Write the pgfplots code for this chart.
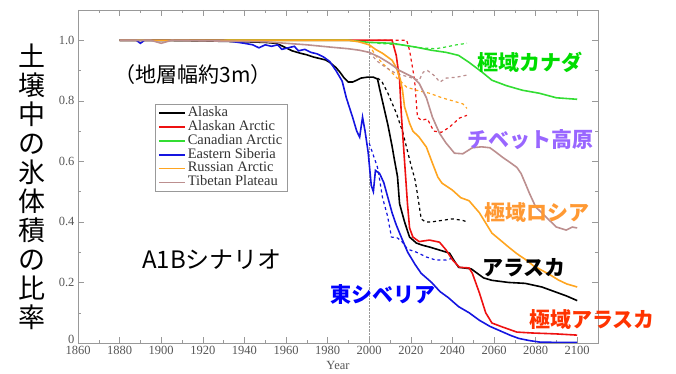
\documentclass[border=0pt]{standalone}
\usepackage{fontspec}
\setmainfont{Liberation Serif}
\newfontfamily\jp{Noto Sans CJK JP}
\usepackage{pgfplots}
\pgfplotsset{compat=1.18}
\definecolor{lblack}{HTML}{000000}
\definecolor{lred}{HTML}{EE1111}
\definecolor{lgreen}{HTML}{33DD33}
\definecolor{lblue}{HTML}{1515E0}
\definecolor{lorange}{HTML}{FFA520}
\definecolor{lbrown}{HTML}{BC8F8F}
\definecolor{tgreen}{HTML}{00DD00}
\definecolor{tpurple}{HTML}{9966FF}
\definecolor{torange}{HTML}{FF9933}
\definecolor{tred}{HTML}{FF3300}
\definecolor{tblue}{HTML}{0000FF}
\definecolor{axgray}{HTML}{999999}
\definecolor{txgray}{HTML}{555555}
\begin{document}
\begin{tikzpicture}
\useasboundingbox (0,0) rectangle (676pt,374pt);
\begin{axis}[
  at={(78pt,31pt)}, anchor=south west,
  width=520pt, height=333pt, scale only axis,
  xmin=1860, xmax=2110, ymin=0, ymax=1.1,
  xtick={1860,1880,...,2100}, minor x tick num=1,
  ytick={0,0.2,0.4,0.6,0.8,1.0}, minor y tick num=1,
  yticklabels={\raisebox{8pt}{0},0.2,0.4,0.6,0.8,1.0},
  tick align=inside,
  major tick length=6pt, minor tick length=3pt,
  axis line style={axgray},
  every tick/.style={axgray},
  /pgf/number format/assume math mode=true,
  xticklabel style={/pgf/number format/1000 sep={}},
  ticklabel style={font=\fontsize{12.5}{14}\selectfont, text=txgray},
  xlabel={Year},
  xlabel style={font=\fontsize{12.5}{14}\selectfont, text=txgray, yshift=1pt},
  legend style={at={(0.148,0.718)}, anchor=north west, draw=axgray,
    font=\fontsize{14.5}{15}\selectfont, text=black!80,
    nodes={inner ysep=0.4pt, text height=9.8pt, text depth=3.3pt},
    cells={anchor=west}},
  legend image code/.code={\draw[#1] (0pt,0pt) -- (26pt,0pt);},
]
\addplot[axgray, densely dotted, forget plot] coordinates {(2000,0) (2000,1.1)};

% dashed scenarios
\addplot[lblack, line width=1.2pt, dashed, forget plot] coordinates {
(2004,0.875)(2006,0.865)(2009,0.825)(2013,0.76)(2016,0.70)(2018,0.645)(2020,0.59)(2022,0.54)(2023,0.50)(2025,0.41)(2027,0.40)(2030,0.40)(2035,0.405)(2040,0.41)(2045,0.405)(2047,0.40)};
\addplot[lred, line width=1.2pt, dashed, forget plot] coordinates {
(2004,1.0)(2018,1.0)(2019.4,0.967)(2021.8,0.87)(2022.7,0.79)(2023.2,0.746)(2025,0.736)(2028,0.74)(2031,0.70)(2034.7,0.696)(2038.6,0.713)(2043.4,0.743)(2047,0.752)};
\addplot[lgreen, line width=1.2pt, dashed, forget plot] coordinates {
(2004,0.99)(2015,0.985)(2025,0.975)(2032,0.972)(2037,0.978)(2042,0.985)(2047,0.99)};
\addplot[lblue, line width=1.2pt, dashed, forget plot] coordinates {
(2000,0.66)(2002,0.62)(2004,0.58)(2005,0.54)(2006.4,0.48)(2008.8,0.42)(2010.7,0.35)(2013.6,0.347)(2016,0.333)(2018.4,0.31)(2022.7,0.30)(2027.5,0.284)(2032,0.274)(2037,0.274)(2040,0.28)};
\addplot[lorange, line width=1.2pt, dashed, forget plot] coordinates {
(2000,0.985)(2003,0.95)(2006.4,0.924)(2010,0.90)(2013,0.878)(2018,0.845)(2022.7,0.835)(2029,0.825)(2035,0.81)(2040,0.80)(2045,0.79)(2047,0.775)};
\addplot[lbrown, line width=1.2pt, dashed, forget plot] coordinates {
(2000,0.96)(2004,0.93)(2008,0.91)(2013,0.89)(2019.4,0.878)(2024,0.868)(2026,0.895)(2028,0.90)(2031,0.885)(2034,0.862)(2037,0.875)(2042,0.878)(2047,0.885)};

% solid
\addplot[lblack, line width=1.6pt] coordinates {
(1880,1.0)(1900,1.0)(1920,0.998)(1940,0.995)(1950,0.993)(1955,0.99)(1957,0.985)(1960,0.975)(1963,0.965)(1967,0.957)(1970,0.952)(1973,0.945)(1976,0.94)(1979,0.935)(1981,0.927)(1984,0.91)(1986,0.894)(1988,0.875)(1990,0.862)(1992,0.862)(1994,0.868)(1996,0.875)(1999,0.878)(2002,0.878)(2004,0.872)(2005,0.84)(2007,0.78)(2009,0.72)(2011,0.65)(2012,0.61)(2013.6,0.55)(2014.6,0.46)(2017,0.40)(2019.4,0.35)(2022.7,0.33)(2025.6,0.323)(2029,0.317)(2033.8,0.307)(2038.6,0.297)(2041,0.27)(2043,0.25)(2049,0.245)(2052,0.23)(2055,0.215)(2059,0.207)(2067,0.2)(2075,0.197)(2083,0.185)(2087,0.175)(2091,0.165)(2095,0.155)(2100,0.14)};
\addlegendentry{Alaska}
\addplot[lred, line width=1.6pt] coordinates {
(1880,1.0)(2011,1.0)(2013,0.95)(2014.6,0.87)(2015.5,0.75)(2017,0.6)(2018.4,0.46)(2019.4,0.38)(2021,0.35)(2024,0.335)(2029,0.34)(2033.8,0.333)(2037,0.307)(2040,0.275)(2043.4,0.25)(2048,0.248)(2049.6,0.23)(2053,0.165)(2056,0.10)(2059,0.066)(2064,0.053)(2071,0.036)(2078.5,0.033)(2090,0.03)(2100,0.026)};
\addlegendentry{Alaskan Arctic}
\addplot[lgreen, line width=1.6pt] coordinates {
(1880,1.0)(1990,1.0)(2000,0.993)(2011,0.99)(2022.7,0.977)(2030,0.967)(2037,0.96)(2043,0.95)(2048,0.927)(2054.4,0.894)(2059,0.868)(2066,0.85)(2073.6,0.835)(2081.8,0.825)(2090,0.81)(2100,0.805)};
\addlegendentry{Canadian Arctic}
\addplot[lblue, line width=1.6pt] coordinates {
(1880,1.0)(1888,1.0)(1890,0.99)(1892,1.0)(1930,1.0)(1935,0.995)(1940,0.99)(1944,0.985)(1947,0.975)(1950,0.985)(1953,0.98)(1956,0.985)(1958,0.97)(1961,0.975)(1964,0.98)(1966,0.965)(1969,0.97)(1972,0.96)(1975,0.955)(1978,0.945)(1981,0.93)(1984,0.90)(1987,0.865)(1989,0.81)(1992,0.746)(1994,0.70)(1995.4,0.68)(1996.8,0.746)(1998,0.70)(1999.5,0.63)(2001,0.52)(2002,0.50)(2003,0.57)(2005,0.56)(2007,0.53)(2009,0.48)(2011,0.43)(2013,0.39)(2016,0.34)(2018.5,0.30)(2022,0.26)(2025,0.23)(2030,0.20)(2034,0.17)(2038,0.15)(2043,0.12)(2048,0.10)(2053,0.075)(2058,0.055)(2063,0.04)(2068,0.025)(2072,0.015)(2077,0.008)(2082,0.003)(2090,0.002)(2100,0.002)};
\addlegendentry{Eastern Siberia}
\addplot[lorange, line width=1.6pt] coordinates {
(1880,1.0)(1990,1.0)(1995,0.995)(2000,0.985)(2003,0.97)(2006.4,0.957)(2011,0.934)(2013,0.91)(2015,0.87)(2016,0.835)(2017,0.78)(2019.4,0.726)(2021,0.70)(2024,0.68)(2027.5,0.647)(2030.4,0.594)(2033,0.548)(2035,0.528)(2040,0.505)(2044,0.48)(2048,0.47)(2053,0.43)(2059,0.363)(2063,0.34)(2067,0.317)(2071,0.295)(2075.5,0.274)(2079,0.255)(2083,0.24)(2087,0.225)(2091,0.208)(2095,0.195)(2100,0.185)};
\addlegendentry{Russian Arctic}
\addplot[lbrown, line width=1.6pt] coordinates {
(1880,1.0)(1895,1.0)(1900,0.99)(1905,1.0)(1950,0.995)(1960,0.99)(1970,0.985)(1982,0.977)(1990,0.972)(1995.4,0.967)(2000,0.96)(2005,0.944)(2009.8,0.924)(2014.6,0.90)(2021,0.878)(2024,0.858)(2027.5,0.81)(2030.4,0.746)(2033.8,0.693)(2037,0.66)(2041,0.627)(2045,0.625)(2049.6,0.645)(2054,0.648)(2058,0.645)(2061,0.63)(2064,0.614)(2068,0.595)(2071,0.58)(2073,0.56)(2075.5,0.52)(2077,0.495)(2080,0.45)(2085,0.416)(2090,0.383)(2094.7,0.373)(2097.6,0.383)(2100,0.38)};
\addlegendentry{Tibetan Plateau}
\end{axis}
% annotations (pixel layout: y = 374 - top offset)
\node[font=\jp\fontsize{27}{29}\selectfont, align=center, inner sep=0pt] at (32pt,187pt)
  {土\\壌\\中\\の\\氷\\体\\積\\の\\比\\率};
\node[font=\jp\fontsize{21}{24}\selectfont, inner sep=0pt] at (193pt,299pt) {（地層幅約3m）};
\node[font=\jp\fontsize{24}{26}\selectfont, inner sep=0pt] at (212pt,114pt) {A1Bシナリオ};
\node[font=\jp\bfseries\fontsize{21}{24}\selectfont, text=tblue, inner sep=0pt] at (383pt,79pt) {東シベリア};
\node[font=\jp\bfseries\fontsize{21}{24}\selectfont, text=black, inner sep=0pt] at (524pt,106pt) {アラスカ};
\node[font=\jp\bfseries\fontsize{21}{24}\selectfont, text=tred, inner sep=0pt] at (592pt,54pt) {極域アラスカ};
\node[font=\jp\bfseries\fontsize{21}{24}\selectfont, text=torange, inner sep=0pt] at (537pt,161pt) {極域ロシア};
\node[font=\jp\bfseries\fontsize{21}{24}\selectfont, text=tpurple, inner sep=0pt] at (530pt,234pt) {チベット高原};
\node[font=\jp\bfseries\fontsize{21}{24}\selectfont, text=tgreen, inner sep=0pt] at (530pt,312pt) {極域カナダ};
\end{tikzpicture}
\end{document}
